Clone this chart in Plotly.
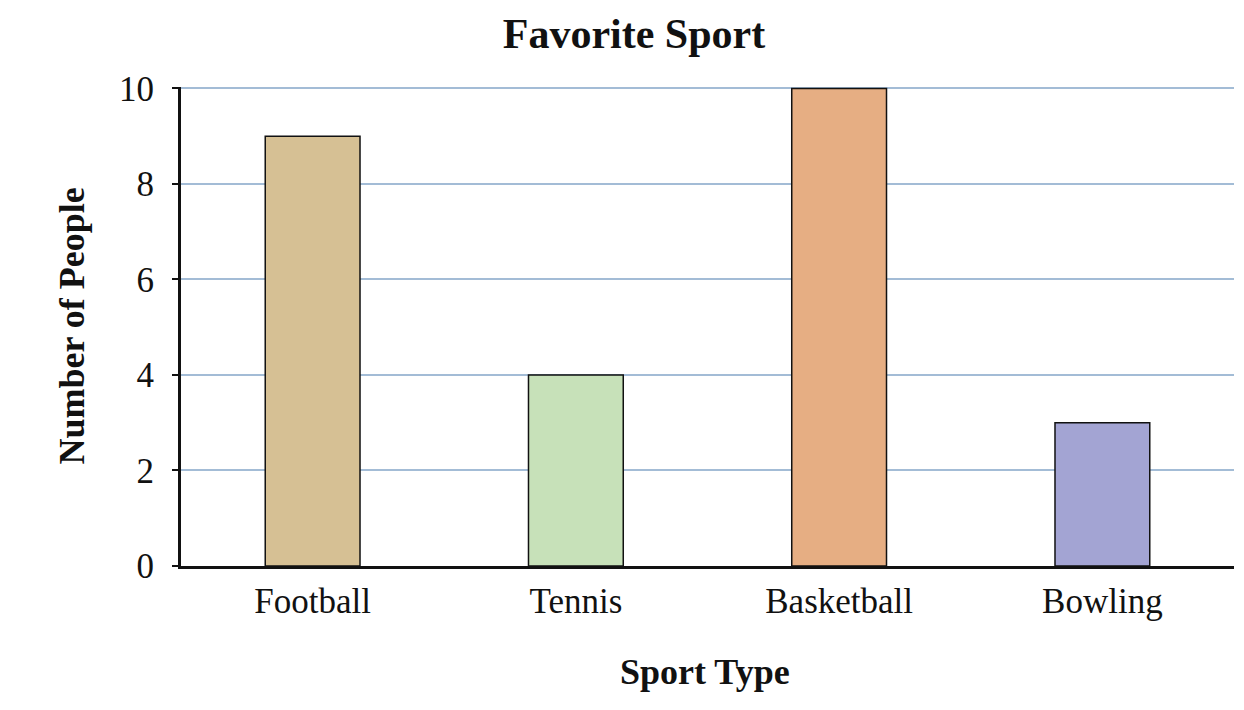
import plotly.graph_objects as go

# chart data
sports = ["Football", "Tennis", "Basketball", "Bowling"]
people = [9, 4, 10, 3]
bar_colors = ["#d6c094", "#c7e1b9", "#e6ae83", "#a3a4d3"]
y_ticks = [0, 2, 4, 6, 8, 10]

SERIF = "Liberation Serif, Times New Roman, serif"

# the page body keeps its default margin, so the figure is a bit smaller
W, H = 1236, 702

fig = go.Figure(
    go.Bar(
        x=sports,
        y=people,
        width=0.36,
        marker=dict(color=bar_colors, line=dict(color="#111111", width=1.5)),
        showlegend=False,
    )
)

fig.update_layout(
    width=W,
    height=H,
    margin=dict(l=173, r=10, t=79, b=144),
    paper_bgcolor="white",
    plot_bgcolor="white",
    font=dict(family=SERIF, color="#111111", size=35),
    title=dict(
        text="<b>Favorite Sport</b>",
        font=dict(family=SERIF, size=42, color="#111111"),
        x=626 / W,
        xanchor="center",
        y=1 - 25 / H,
        yanchor="middle",
    ),
)

fig.update_xaxes(
    showline=True,
    linecolor="#111111",
    linewidth=3,
    ticks="",
    showgrid=False,
    ticklabelstandoff=2,
    tickfont=dict(size=35),
)

fig.update_yaxes(
    range=[0, 10.03],
    tickvals=y_ticks,
    showline=True,
    linecolor="#111111",
    linewidth=3,
    ticks="outside",
    ticklen=6,
    tickwidth=2,
    tickcolor="#111111",
    showgrid=True,
    gridcolor="#a3bcd6",
    gridwidth=2,
    zeroline=False,
    ticklabelstandoff=11,
    tickfont=dict(size=35),
)

# axis titles placed as annotations, offset in pixels from the plot edges
fig.add_annotation(
    text="<b>Sport Type</b>",
    xref="paper", yref="paper",
    x=0.5, y=0, yshift=-106, xshift=-3,
    xanchor="center", yanchor="middle",
    showarrow=False,
    font=dict(family=SERIF, size=36, color="#111111"),
)
fig.add_annotation(
    text="<b>Number of People</b>",
    xref="paper", yref="paper",
    x=0, y=0.5, xshift=-110,
    xanchor="center", yanchor="middle",
    textangle=-90,
    showarrow=False,
    font=dict(family=SERIF, size=36, color="#111111"),
)

fig.write_html("out.html")
